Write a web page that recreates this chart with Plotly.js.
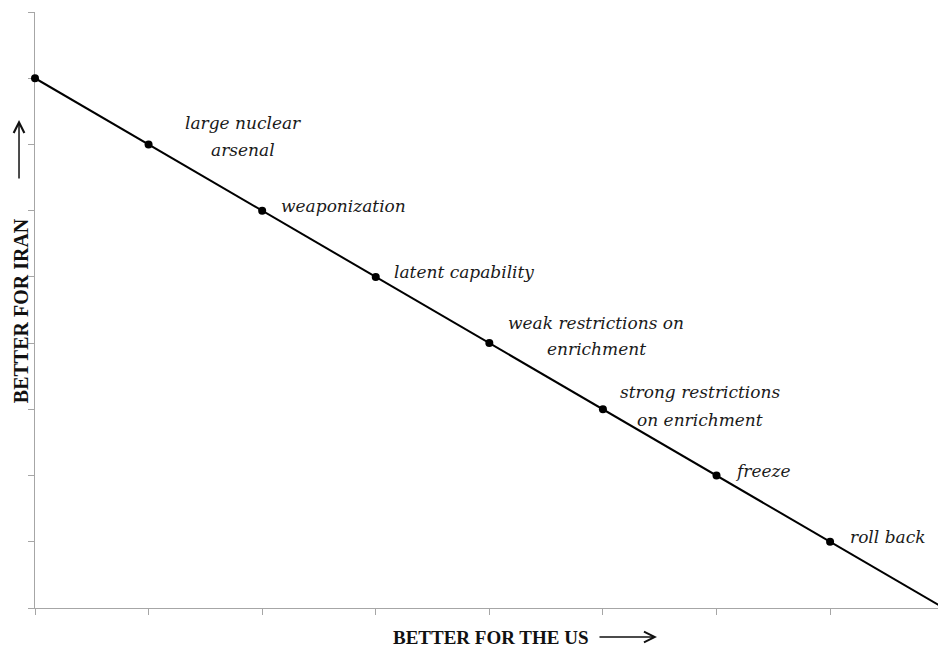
<!DOCTYPE html>
<html>
<head>
<meta charset="utf-8">
<script src="https://cdn.plot.ly/plotly-3.0.1.min.js"></script>
<style>html,body{margin:0;padding:0;background:#fff;}#chart{width:938px;height:649px;}</style>
</head>
<body>
<div id="chart"></div>
<script>
// ---- data ----
var usScore   = [0, 1, 2, 3, 4, 5, 6, 7];          // "better for the US"
var iranScore = [8, 7, 6, 5, 4, 3, 2, 1];          // "better for Iran"
var lineX = [0, 8];                                  // trade-off frontier
var lineY = [8, 0];
var optionLabels = [
  null,
  ["large nuclear", "arsenal"],
  ["weaponization"],
  ["latent capability"],
  ["weak restrictions on", "enrichment"],
  ["strong restrictions", "on enrichment"],
  ["freeze"],
  ["roll back"]
];
var xTitle = "BETTER FOR THE US";
var yTitle = "BETTER FOR IRAN";

// ---- label placement (pixels, style only) ----
// [anchor, dx, [yshift per line]]
var labelPlace = [
  null,
  ["center", 94, [21, -6]],
  ["left", 17, [5]],
  ["left", 16, [5]],
  ["center", 107, [20, -6]],
  ["center", 97, [17, -11]],
  ["left", 16, [5]],
  ["left", 18, [5]]
];

var labelFont = {family: "DejaVu Serif", size: 17, color: "#1a1a1a", style: "italic"};
var annotations = [];
for (var i = 0; i < optionLabels.length; i++) {
  if (!optionLabels[i]) continue;
  var p = labelPlace[i];
  for (var j = 0; j < optionLabels[i].length; j++) {
    annotations.push({
      x: usScore[i], y: iranScore[i], xref: "x", yref: "y",
      text: "<i>" + optionLabels[i][j] + "</i>",
      showarrow: false, xanchor: p[0], yanchor: "middle",
      xshift: p[1], yshift: p[2][j],
      font: labelFont
    });
  }
}
// axis titles
annotations.push({
  x: 0.5055, y: -0.0688, xref: "paper", yref: "paper",
  text: "<b>" + xTitle + "</b>", showarrow: false, xanchor: "center", yanchor: "bottom",
  borderpad: 0,
  font: {family: "Liberation Serif", size: 19, color: "#111"}
});
annotations.push({
  x: -0.0155, y: 0.498, xref: "paper", yref: "paper",
  text: "<b>" + yTitle + "</b>", showarrow: false, textangle: -90,
  xanchor: "center", yanchor: "middle",
  font: {family: "Liberation Serif", size: 20, color: "#111"}
});
// direction arrows
annotations.push({
  x: 0.6888, y: -0.0487, xref: "paper", yref: "paper", text: "",
  showarrow: true, ax: -59, ay: 0, arrowhead: 5, arrowsize: 1.4, arrowwidth: 1.5, arrowcolor: "#111"
});
annotations.push({
  x: -0.0177, y: 0.8188, xref: "paper", yref: "paper", text: "",
  showarrow: true, ax: 0, ay: 60, arrowhead: 5, arrowsize: 1.4, arrowwidth: 1.5, arrowcolor: "#111"
});

var traces = [
  {x: lineX, y: lineY, mode: "lines", line: {color: "#000", width: 2}, hoverinfo: "skip", showlegend: false},
  {x: usScore, y: iranScore, mode: "markers", marker: {color: "#000", size: 8}, cliponaxis: false, showlegend: false}
];

var axisGrey = "#a6a6a6";
var layout = {
  width: 938, height: 649,
  margin: {l: 35, r: 0, t: 12, b: 41, pad: 0},
  paper_bgcolor: "#fff", plot_bgcolor: "#fff",
  showlegend: false,
  xaxis: {range: [0, 7.95], dtick: 1, tick0: 0, ticks: "outside", ticklen: 6, tickcolor: axisGrey, tickwidth: 1,
          showticklabels: false, showgrid: false, zeroline: false, showline: true, linecolor: axisGrey, linewidth: 1,
          layer: "below traces"},
  yaxis: {range: [0, 9], dtick: 1, tick0: 0, ticks: "outside", ticklen: 6, tickcolor: axisGrey, tickwidth: 1,
          showticklabels: false, showgrid: false, zeroline: false, showline: true, linecolor: axisGrey, linewidth: 1,
          layer: "below traces"},
  annotations: annotations
};

Plotly.newPlot("chart", traces, layout, {staticPlot: true, displayModeBar: false});
</script>
</body>
</html>
